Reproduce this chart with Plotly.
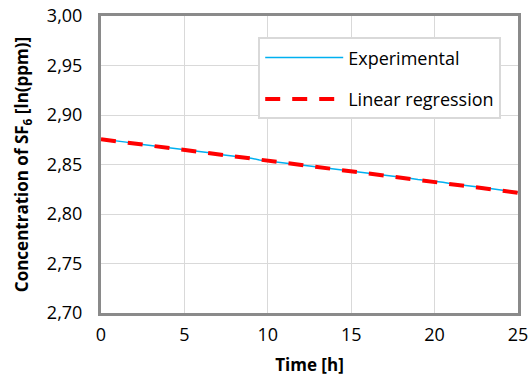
import plotly.graph_objects as go

time_h = [i * 0.5 for i in range(51)]
experimental = [
    2.8758, 2.8749, 2.8741, 2.8726, 2.8713, 2.8703, 2.8692, 2.8680, 2.8670, 2.8660,
    2.8648, 2.8640, 2.8626, 2.8618, 2.8604, 2.8595, 2.8582, 2.8573, 2.8564, 2.8546,
    2.8537, 2.8530, 2.8518, 2.8506, 2.8496, 2.8486, 2.8476, 2.8464, 2.8455, 2.8442,
    2.8433, 2.8423, 2.8412, 2.8401, 2.8390, 2.8382, 2.8370, 2.8360, 2.8348, 2.8340,
    2.8328, 2.8320, 2.8306, 2.8298, 2.8286, 2.8275, 2.8265, 2.8253, 2.8242, 2.8232,
    2.8220,
]
reg_time = [0, 25]
reg_values = [2.8755, 2.8215]

FONT = "Open Sans"

fig = go.Figure()
fig.add_trace(go.Scatter(
    x=time_h, y=experimental, mode="lines", name="Experimental",
    line=dict(color="#00b0f0", width=1.5), legendgroup="a",
))
fig.add_trace(go.Scatter(
    x=reg_time, y=reg_values, mode="lines", name="Linear regression",
    line=dict(color="#ff0000", width=4, dash="15px,12px"), legendgroup="b",
))

fig.update_layout(
    width=530, height=377,
    margin=dict(l=101, r=12, t=16, b=64),
    paper_bgcolor="white", plot_bgcolor="white",
    separators=", ",
    font=dict(family=FONT, size=18, color="black"),
    showlegend=True,
    legend=dict(
        x=0.377, y=0.928, xanchor="left", yanchor="top",
        bgcolor="white", bordercolor="#d9d9d9", borderwidth=2,
        font=dict(family=FONT, size=18),
        tracegroupgap=15, traceorder="grouped", itemwidth=78,
    ),
    xaxis=dict(
        range=[0, 25], dtick=5, tick0=0, automargin=False,
        showgrid=True, gridcolor="#d9d9d9", gridwidth=1,
        showline=True, mirror=True, linecolor="#8a8a8a", linewidth=3,
        ticks="", zeroline=False, ticklabelstandoff=3,
        title=dict(text="<b>Time [h]</b>", font=dict(family=FONT, size=17), standoff=15),
        tickfont=dict(size=18),
    ),
    yaxis=dict(
        range=[2.70, 3.00], dtick=0.05, tick0=2.70, tickformat=".2f", automargin=False,
        showgrid=True, gridcolor="#d9d9d9", gridwidth=1,
        showline=True, mirror=True, linecolor="#8a8a8a", linewidth=3,
        ticks="", zeroline=False, ticklabelstandoff=12,
        title=dict(text="<b>Concentration of SF<sub>6</sub> [ln(ppm)]</b>",
                   font=dict(family=FONT, size=17), standoff=14),
        tickfont=dict(size=18),
    ),
)

fig.write_html("out.html")
